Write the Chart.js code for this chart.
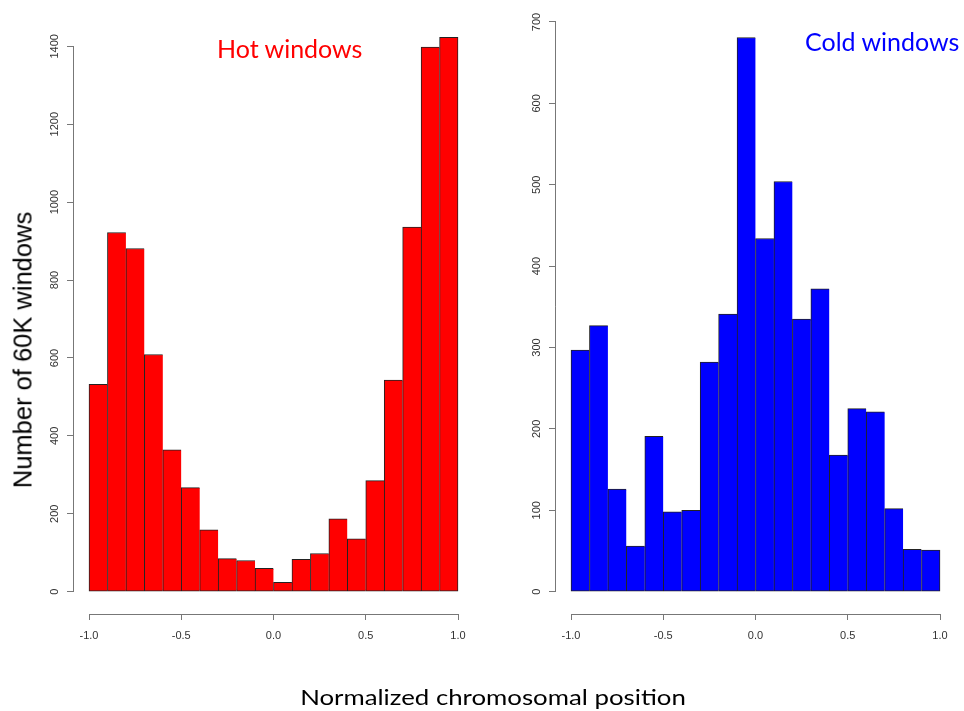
<!DOCTYPE html>
<html>
<head>
<meta charset="utf-8">
<script src="https://cdn.jsdelivr.net/npm/chart.js@4"></script>
<style>
  body { margin: 0; background: #fff; width: 964px; height: 711px; position: relative; overflow: hidden; }
  canvas { position: absolute; top: 0; }
  .lbl { position: absolute; white-space: nowrap; line-height: 1; }
  #hot-title { left: 217px; top: 33px; font: 25px Lato, sans-serif; color: #ff0000; }
  #cold-title { left: 805px; top: 26px; font: 25px Lato, sans-serif; color: #0000ff; }
  #y-title { left: 23px; top: 350px; font: 25.5px "Liberation Sans", Arial, sans-serif; color: #000;
             transform: translate(-50%, -50%) rotate(-90deg); }
  #x-title { left: 493px; top: 684px; font: 21.5px Lato, sans-serif; color: #000;
             transform: translateX(-50%) scaleX(1.2); }
</style>
</head>
<body>
<canvas id="hot" width="482" height="711" style="left:0"></canvas>
<canvas id="cold" width="482" height="711" style="left:482px"></canvas>
<div class="lbl" id="hot-title">Hot windows</div>
<div class="lbl" id="cold-title">Cold windows</div>
<div class="lbl" id="y-title">Number of 60K windows</div>
<div class="lbl" id="x-title">Normalized chromosomal position</div>
<script>
// Histogram bins of width 0.1 over [-1, 1]; counts.
const BIN_CENTERS = [-0.95, -0.85, -0.75, -0.65, -0.55, -0.45, -0.35, -0.25, -0.15, -0.05,
                      0.05,  0.15,  0.25,  0.35,  0.45,  0.55,  0.65,  0.75,  0.85,  0.95];
const HOT_COUNTS  = [532, 922, 881, 609, 364, 267, 159, 85, 80, 60,
                     24, 83, 98, 187, 136, 285, 543, 936, 1398, 1423];
const COLD_COUNTS = [297, 327, 126, 56, 191, 98, 100, 282, 341, 681,
                     434, 504, 335, 372, 168, 225, 221, 102, 52, 51];

const X_TICKS = [-1.0, -0.5, 0.0, 0.5, 1.0];
const HOT_Y_TICKS  = [0, 200, 400, 600, 800, 1000, 1200, 1400];
const COLD_Y_TICKS = [0, 100, 200, 300, 400, 500, 600, 700];

const AXIS_COLOR = '#777';
const TICK_COLOR = '#333';
const BAR_EDGE = '#222';
const TICK_FONT = {family: "'Liberation Sans', Arial, sans-serif", size: 11};

// R-style axes: the line only spans first..last tick, detached from the bars.
const rAxes = {
  id: 'rAxes',
  afterDraw(chart) {
    const {ctx, chartArea, scales: {x, y}} = chart;
    const yTicks = chart.options.scales.y.tickValues;
    ctx.save();
    ctx.strokeStyle = AXIS_COLOR;
    ctx.lineWidth = 1;
    ctx.beginPath();
    const yb = Math.round(chartArea.bottom) + 0.5;
    ctx.moveTo(x.getPixelForValue(X_TICKS[0]), yb);
    ctx.lineTo(x.getPixelForValue(X_TICKS[X_TICKS.length - 1]), yb);
    const xl = Math.round(chartArea.left) - 0.5;
    ctx.moveTo(xl, y.getPixelForValue(yTicks[0]));
    ctx.lineTo(xl, y.getPixelForValue(yTicks[yTicks.length - 1]));
    ctx.stroke();
    ctx.restore();
  }
};

function makeHist(id, counts, color, yTicks, yMin, yMax, labelPad) {
  const last = BIN_CENTERS.length - 1;
  return new Chart(document.getElementById(id), {
    type: 'bar',
    data: {
      datasets: [{
        data: BIN_CENTERS.map((c, i) => ({x: c, y: counts[i]})),
        backgroundColor: color,
        borderColor: BAR_EDGE,
        borderWidth: (ctx) => ({top: 1, left: 1, bottom: 1, right: ctx.dataIndex === last ? 1 : 0}),
        borderSkipped: false,
        barPercentage: 1,
        categoryPercentage: 1,
      }]
    },
    options: {
      responsive: false,
      animation: false,
      events: [],
      layout: {padding: {top: 10, right: 12, left: 0, bottom: 0}},
      plugins: {legend: {display: false}, tooltip: {enabled: false}},
      scales: {
        x: {
          type: 'linear',
          offset: false,
          min: -1.0813,
          max: 1.0650,
          afterBuildTicks: (s) => { s.ticks = X_TICKS.map(v => ({value: v})); },
          afterFit: (s) => { s.height = 97; },
          grid: {offset: false, drawOnChartArea: false, tickLength: 6, color: AXIS_COLOR},
          border: {display: false},
          ticks: {padding: 9, font: TICK_FONT, color: TICK_COLOR, maxRotation: 0, autoSkip: false,
                  callback: (v) => Number(v).toFixed(1)},
        },
        y: {
          type: 'linear',
          min: yMin,
          max: yMax,
          tickValues: yTicks,
          afterBuildTicks: (s) => { s.ticks = yTicks.map(v => ({value: v})); },
          afterFit: (s) => { s.width = 74; },
          grid: {drawOnChartArea: false, tickLength: 7, color: AXIS_COLOR},
          border: {display: false},
          ticks: {padding: labelPad, font: TICK_FONT, color: TICK_COLOR, minRotation: 90, maxRotation: 90,
                  crossAlign: 'center', autoSkip: false, callback: (v) => String(v)},
        }
      }
    },
    plugins: [rAxes]
  });
}

makeHist('hot', HOT_COUNTS, '#ff0000', HOT_Y_TICKS, -57.24, 1493.2, 0);
makeHist('cold', COLD_COUNTS, '#0000ff', COLD_Y_TICKS, -27.40, 714.74, 3);
</script>
</body>
</html>
